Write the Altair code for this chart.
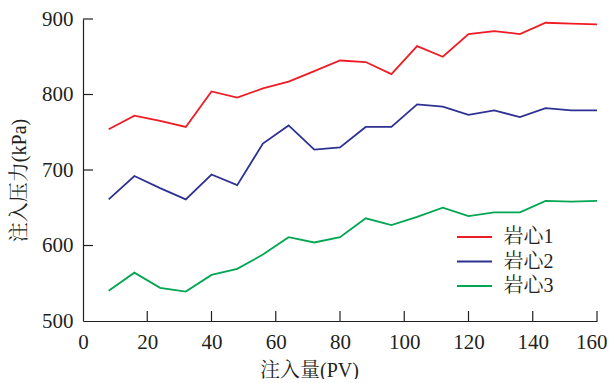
import altair as alt
import pandas as pd

pv = [8, 16, 24, 32, 40, 48, 56, 64, 72, 80, 88, 96, 104, 112, 120, 128, 136, 144, 152, 160]
core1 = [754, 772, 765, 757, 804, 796, 808, 817, 831, 845, 843, 827, 864, 850, 880, 884, 880, 895, 894, 893]
core2 = [661, 692, 676, 661, 694, 680, 735, 759, 727, 730, 757, 757, 787, 784, 773, 779, 770, 782, 779, 779]
core3 = [540, 564, 544, 539, 561, 569, 588, 611, 604, 611, 636, 627, 638, 650, 639, 644, 644, 659, 658, 659]
names = ["岩心1", "岩心2", "岩心3"]
colors = ["#ed1c24", "#2e3192", "#00a651"]
x_ticks = [20, 40, 60, 80, 100, 120, 140, 160]
y_ticks = [600, 700, 800, 900]

rows = []
for name, vals in zip(names, [core1, core2, core3]):
    for x, v in zip(pv, vals):
        rows.append({"pv": x, "p": v, "core": name})
df = pd.DataFrame(rows)

FONT = "Liberation Serif, Noto Serif CJK SC, Noto Sans CJK SC"
W, H = 514, 302

xscale = alt.Scale(domain=[0, 160], nice=False, zero=False)
yscale = alt.Scale(domain=[500, 900], nice=False, zero=False)

lines = alt.Chart(df).mark_line(strokeWidth=1.8).encode(
    x=alt.X("pv:Q", scale=xscale,
            axis=alt.Axis(title="注入量(PV)", values=[0] + x_ticks, ticks=False,
                          labelPadding=10, titlePadding=8, titleX=226,
                          labelAlign={"condition": {"test": "datum.value == 160", "value": "right"},
                                      "value": "center"},
                          labelOffset={"condition": {"test": "datum.value == 160", "value": 10},
                                       "value": 0},
                          labelFlush=False, grid=False)),
    y=alt.Y("p:Q", scale=yscale,
            axis=alt.Axis(title="注入压力(kPa)", values=[500] + y_ticks, ticks=False,
                          labelPadding=10, titlePadding=12, titleY=161,
                          labelFlush=False, grid=False)),
    color=alt.Color("core:N", scale=alt.Scale(domain=names, range=colors),
                    legend=alt.Legend(title=None, orient="none", legendX=381.5, legendY=208,
                                      padding=0,
                                      symbolType="M-3.5,0H3.5", symbolSize=100,
                                      symbolStrokeWidth=2, labelFontSize=20,
                                      labelFont=FONT, labelColor="#231f20",
                                      labelOffset=19, rowPadding=4.5)),
)

xt = alt.Chart(pd.DataFrame({"t": x_ticks})).mark_rule(color="#231f20", strokeWidth=1.2).encode(
    x=alt.X("t:Q", scale=xscale), y=alt.value(H), y2=alt.value(H - 10))
yt = alt.Chart(pd.DataFrame({"t": y_ticks})).mark_rule(color="#231f20", strokeWidth=1.2).encode(
    y=alt.Y("t:Q", scale=yscale), x=alt.value(0), x2=alt.value(10))

chart = alt.layer(lines, xt, yt).properties(
    width=W, height=H,
    autosize=alt.AutoSizeParams(type="none"),
    padding={"left": 75, "top": 11, "right": 10, "bottom": 58},
).configure_view(stroke=None).configure_axis(
    domainColor="#231f20", domainWidth=1.2,
    labelFont=FONT, labelFontSize=21, labelColor="#231f20",
    titleFont=FONT, titleFontSize=20, titleColor="#231f20", titleFontWeight="normal",
)

chart.save("out.html", embed_options={"renderer": "svg", "actions": False})
